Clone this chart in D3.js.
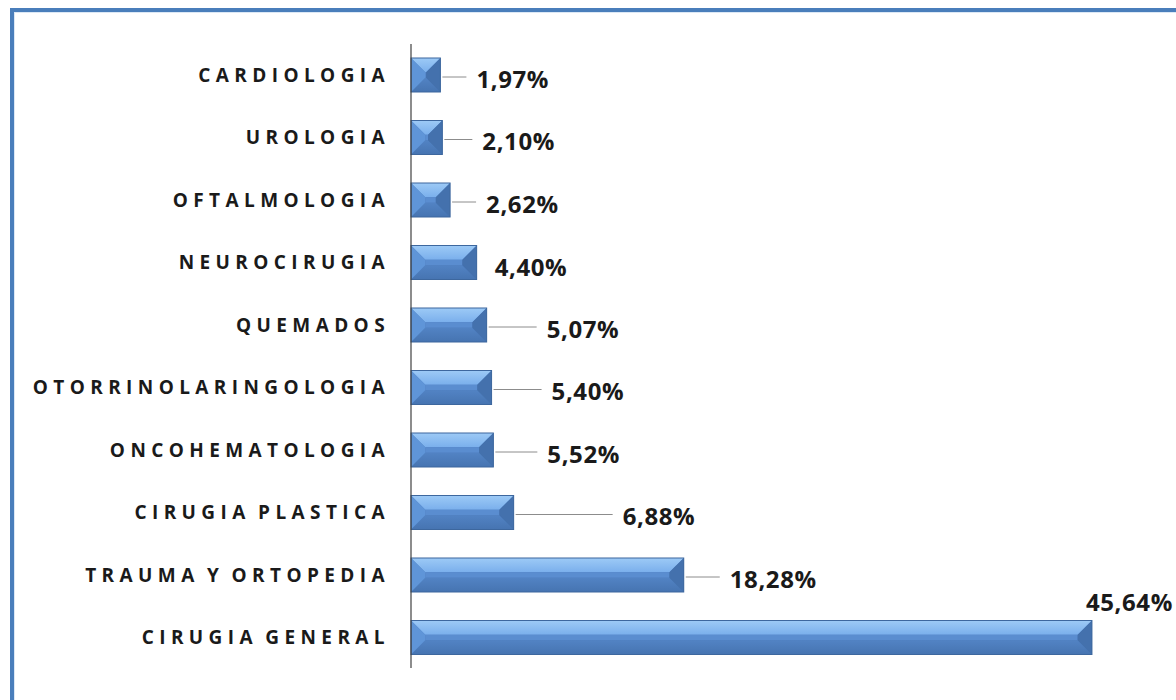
<!DOCTYPE html>
<html>
<head>
<meta charset="utf-8">
<script src="https://cdn.jsdelivr.net/npm/d3@7"></script>
<style>
html,body{margin:0;padding:0;background:#fff;overflow:hidden;}
svg{display:block;}
</style>
</head>
<body>
<svg id="chart" width="1176" height="700"></svg>
<script>
// ---- data ----
const categories = ["CARDIOLOGIA","UROLOGIA","OFTALMOLOGIA","NEUROCIRUGIA","QUEMADOS",
  "OTORRINOLARINGOLOGIA","ONCOHEMATOLOGIA","CIRUGIA PLASTICA","TRAUMA Y ORTOPEDIA","CIRUGIA GENERAL"];
const values = [1.97, 2.10, 2.62, 4.40, 5.07, 5.40, 5.52, 6.88, 18.28, 45.64];
// label placement (pixels from bar end, pixels vertical shift)
const labelGap = [36, 40, 36, 18, 60, 60, 54, 109, 46, -6];
const labelDy = [3, 3, 3, 4, 3, 3, 3, 3, 3, -36];

const svg = d3.select("#chart");
const W = 1176, H = 700;

// frame
svg.append("rect").attr("x",12).attr("y",10).attr("width",W+20).attr("height",H+20)
  .attr("fill","#fff").attr("stroke","#4a7ebb").attr("stroke-width",4);
svg.append("rect").attr("x",14.5).attr("y",12.5).attr("width",W+20).attr("height",H+20)
  .attr("fill","none").attr("stroke","#dce8f5").attr("stroke-width",1);

const x = d3.scaleLinear().domain([0, 50]).range([411, 1157]);
const y = d3.scaleBand().domain(categories).range([43.75, 668.75])
  .paddingInner(0.456).paddingOuter(0.228);

const defs = svg.append("defs");
const gTop = defs.append("linearGradient").attr("id","gTop").attr("x1",0).attr("y1",0).attr("x2",0).attr("y2",1);
gTop.append("stop").attr("offset","0%").attr("stop-color","#9dcaf6");
gTop.append("stop").attr("offset","100%").attr("stop-color","#7aafec");
const gBot = defs.append("linearGradient").attr("id","gBot").attr("x1",0).attr("y1",0).attr("x2",0).attr("y2",1);
gBot.append("stop").attr("offset","0%").attr("stop-color","#5283c4");
gBot.append("stop").attr("offset","100%").attr("stop-color","#4674b1");

const bars = svg.append("g").selectAll("g").data(categories).join("g");
bars.each(function(c, i){
  const g = d3.select(this);
  const x0 = x(0), x1 = x(values[i]);
  const y0 = y(c), y1 = y(c) + y.bandwidth();
  const h = y1 - y0, w = x1 - x0;
  const b = Math.min(h * 0.42, w / 2);
  const poly = pts => pts.map(p => p.join(",")).join(" ");
  g.append("rect").attr("x",x0).attr("y",y0).attr("width",w).attr("height",h).attr("fill","url(#gBot)");
  g.append("polygon").attr("points", poly([[x0,y0],[x1,y0],[x1-b,y0+b],[x0+b,y0+b]])).attr("fill","url(#gTop)");
  g.append("rect").attr("x",x0+b).attr("y",y0+b).attr("width",Math.max(0,w-2*b)).attr("height",Math.max(0,h-2*b)).attr("fill","#5a8dd0");
  g.append("polygon").attr("points", poly([[x0,y1],[x1,y1],[x1-b,y1-b],[x0+b,y1-b]])).attr("fill","url(#gBot)");
  g.append("polygon").attr("points", poly([[x0,y0],[x0+b,y0+b],[x0+b,y1-b],[x0,y1]])).attr("fill","#5f95d8");
  g.append("polygon").attr("points", poly([[x1,y0],[x1-b,y0+b],[x1-b,y1-b],[x1,y1]])).attr("fill","#4471ad");
  g.append("rect").attr("x",x0).attr("y",y0).attr("width",w).attr("height",h)
    .attr("fill","none").attr("stroke","#3d679e").attr("stroke-width",1);

  const tx = x1 + labelGap[i];
  const cy = y0 + h / 2;
  if (labelGap[i] > 25) {
    g.append("line").attr("x1", x1 + 2).attr("x2", tx - 10)
      .attr("y1", cy + 2).attr("y2", cy + 2)
      .attr("stroke","#8c8c8c").attr("stroke-width",1);
  }
  g.append("text").attr("x", tx).attr("y", cy + labelDy[i])
    .attr("dominant-baseline","central")
    .attr("font-family","'Open Sans', sans-serif").attr("font-weight",700)
    .attr("font-size",24).attr("letter-spacing","0.6px").attr("fill","#1a1a1a")
    .text(values[i].toFixed(2).replace(".", ",") + "%");
});

// axis line
svg.append("line").attr("x1",x(0)).attr("x2",x(0)).attr("y1",44).attr("y2",668)
  .attr("stroke","#404040").attr("stroke-width",1.2);

// category labels
const yAxis = d3.axisLeft(y).tickSize(0).tickPadding(0);
const ax = svg.append("g").attr("transform","translate(390,0)").call(yAxis);
ax.select(".domain").remove();
ax.selectAll("text")
  .attr("font-family","'Open Sans', sans-serif").attr("font-weight",700)
  .attr("font-size",19).attr("letter-spacing","5.4px").attr("word-spacing","-3px").attr("fill","#1a1a1a")
  .attr("dy","0.35em");
</script>
</body>
</html>
